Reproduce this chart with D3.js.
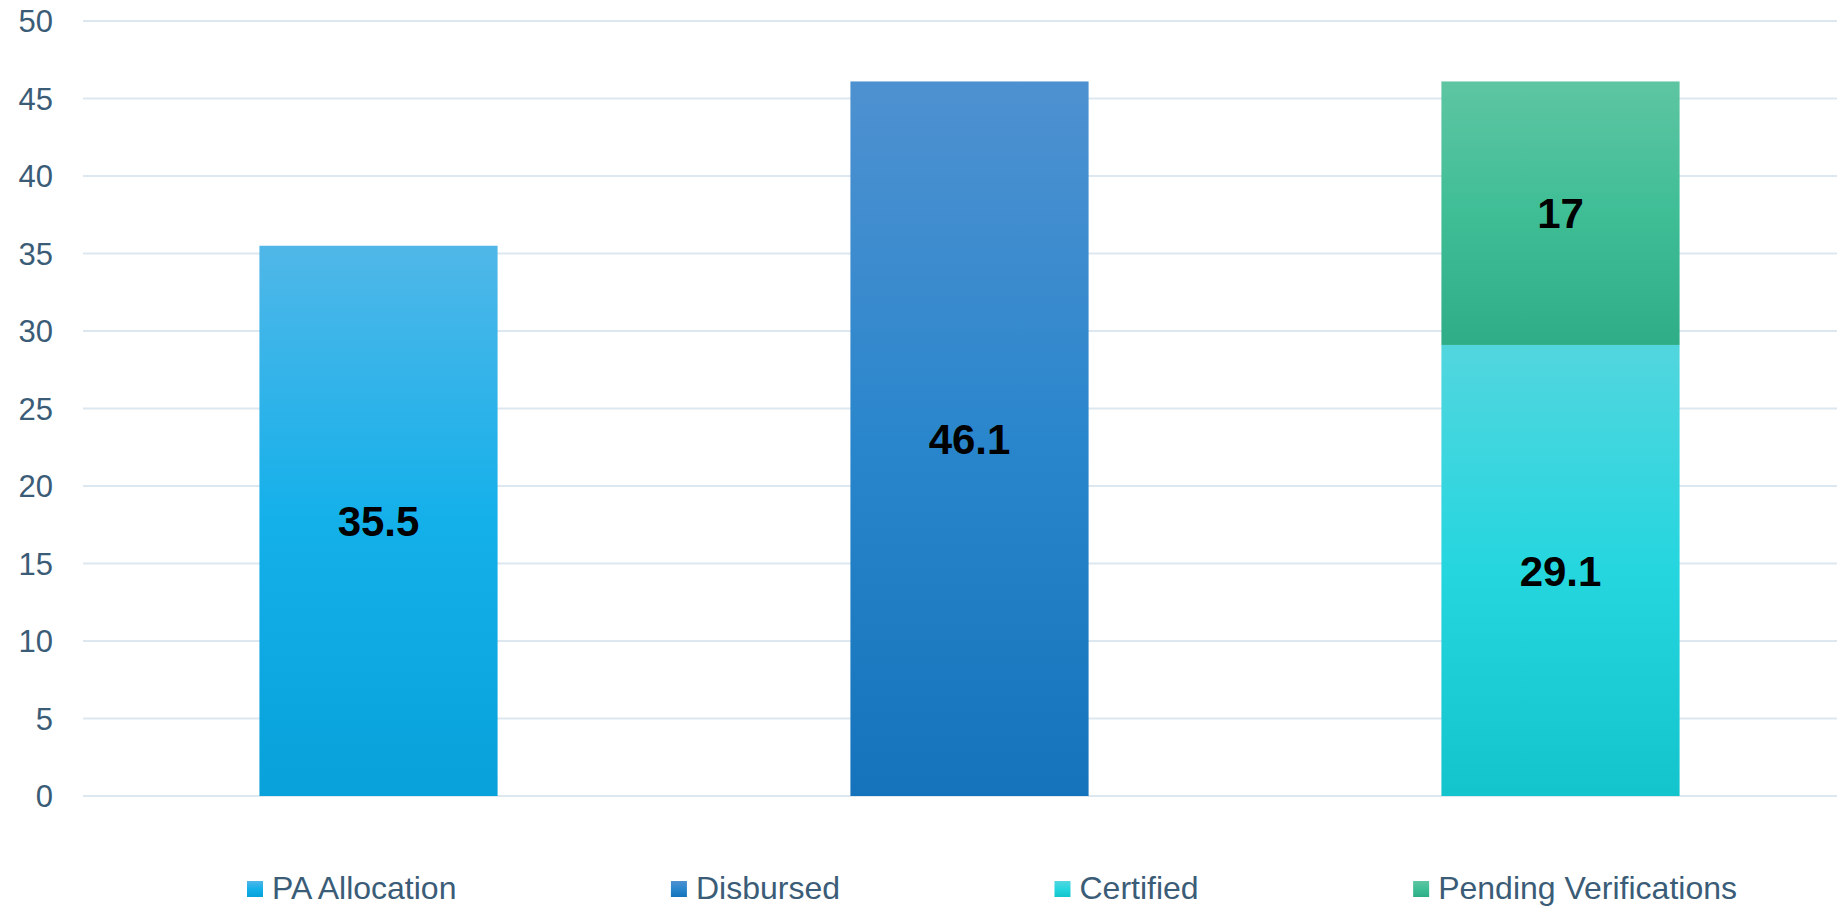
<!DOCTYPE html>
<html>
<head>
<meta charset="utf-8">
<script src="https://cdn.jsdelivr.net/npm/d3@7"></script>
<style>
  html, body { margin: 0; padding: 0; background: #ffffff; }
  svg { display: block; font-family: "Liberation Sans", Arial, sans-serif; }
</style>
</head>
<body>
<svg id="chart" width="1837" height="907"></svg>
<script>
// ---- data ----
const categories = ["PA Allocation", "Disbursed", "Certified / Pending"];
const seriesNames = ["PA Allocation", "Disbursed", "Certified", "Pending Verifications"];
const paAllocation = [35.5, 0, 0];
const disbursed = [0, 46.1, 0];
const certified = [0, 0, 29.1];
const pendingVerifications = [0, 0, 17];
const yTicks = [0, 5, 10, 15, 20, 25, 30, 35, 40, 45, 50];

// ---- styles ----
const gradStops = [
  ["#50b7e8", "#14b0ea", "#08a1da"],
  ["#4e91d0", "#2a86cc", "#1473bb"],
  ["#52d6de", "#25d6df", "#13c4cc"],
  ["#5ec5a2", "#3fbe96", "#2fad87"]
];
const axisColor = "#3b5c77";
const gridColor = "#dde7f0";

const svg = d3.select("#chart");
const defs = svg.append("defs");
gradStops.forEach((s, i) => {
  const g = defs.append("linearGradient").attr("id", "grad" + i)
    .attr("x1", 0).attr("y1", 0).attr("x2", 0).attr("y2", 1);
  g.append("stop").attr("offset", "0%").attr("stop-color", s[0]);
  g.append("stop").attr("offset", "50%").attr("stop-color", s[1]);
  g.append("stop").attr("offset", "100%").attr("stop-color", s[2]);
});

const rows = categories.map((c, i) => ({
  cat: c,
  "PA Allocation": paAllocation[i],
  "Disbursed": disbursed[i],
  "Certified": certified[i],
  "Pending Verifications": pendingVerifications[i]
}));

const x = d3.scaleBand().domain(categories).range([83, 1856])
  .paddingInner(0.597).paddingOuter(0.2985);
const y = d3.scaleLinear().domain([0, 50]).range([796, 21]);

// gridlines
svg.append("g").selectAll("line").data(yTicks).join("line")
  .attr("x1", 83).attr("x2", 1837)
  .attr("y1", d => y(d)).attr("y2", d => y(d))
  .attr("stroke", gridColor).attr("stroke-width", 2);

// y axis labels
const yAxis = d3.axisLeft(y).tickValues(yTicks).tickSize(0).tickPadding(0);
const ya = svg.append("g").attr("transform", "translate(53,0)").call(yAxis);
ya.select(".domain").remove();
ya.selectAll("text").attr("font-size", 31).attr("fill", axisColor)
  .attr("font-family", "'Liberation Sans', Arial, sans-serif")
  .attr("dy", "0.35em");

// stacked bars
const stack = d3.stack().keys(seriesNames);
const stacked = stack(rows);
stacked.forEach((layer, si) => {
  const g = svg.append("g");
  const segs = layer.map(d => ({ d, cat: d.data.cat, v: d.data[layer.key] })).filter(s => s.v > 0);
  g.selectAll("rect").data(segs).join("rect")
    .attr("x", s => x(s.cat))
    .attr("width", x.bandwidth())
    .attr("y", s => y(s.d[1]))
    .attr("height", s => y(s.d[0]) - y(s.d[1]))
    .attr("fill", "url(#grad" + si + ")");
  g.selectAll("text").data(segs).join("text")
    .attr("x", s => x(s.cat) + x.bandwidth() / 2)
    .attr("y", s => y((s.d[0] + s.d[1]) / 2))
    .attr("dy", "0.36em")
    .attr("text-anchor", "middle")
    .attr("font-size", 42).attr("font-weight", "bold").attr("fill", "#000")
    .text(s => s.v);
});

// legend
const legend = svg.append("g").attr("transform", "translate(247,899)");
let lx = 0;
seriesNames.forEach((name, i) => {
  const item = legend.append("g").attr("transform", `translate(${lx},0)`);
  item.append("rect").attr("x", 0).attr("y", -18).attr("width", 16).attr("height", 16)
    .attr("fill", "url(#grad" + i + ")");
  const t = item.append("text").attr("x", 25).attr("y", 0)
    .attr("font-size", 32).attr("fill", axisColor).text(name);
  const w = t.node().getComputedTextLength();
  lx += 25 + w + 214.5;
});
</script>
</body>
</html>
